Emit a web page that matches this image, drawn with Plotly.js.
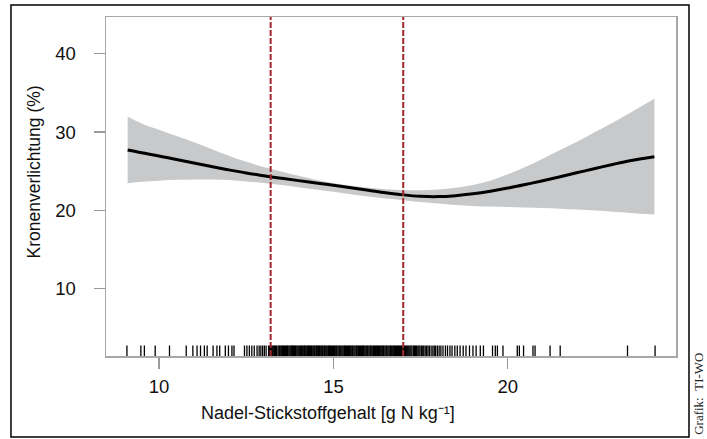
<!DOCTYPE html>
<html>
<head>
<meta charset="utf-8">
<script src="https://cdn.plot.ly/plotly-3.0.1.min.js"></script>
<style>html,body{margin:0;padding:0;background:#fff;}#chart{width:707px;height:439px;}</style>
</head>
<body>
<div id="chart"></div>
<script>
// Nitrogen content (g N / kg) grid of the smooth
const xGrid = [9.1, 9.5, 10.0, 10.5, 11.0, 11.5, 12.0, 12.5, 13.0, 13.5, 14.0, 14.5, 15.0, 15.5, 16.0, 16.5, 17.0, 17.5, 18.0, 18.5, 19.0, 19.5, 20.0, 20.5, 21.0, 21.5, 22.0, 22.5, 23.0, 23.5, 24.2];
// Fitted crown defoliation (%)
const fitValues = [27.7, 27.35, 26.95, 26.5, 26.05, 25.6, 25.17, 24.77, 24.43, 24.1, 23.8, 23.5, 23.2, 22.88, 22.57, 22.25, 21.98, 21.8, 21.76, 21.88, 22.12, 22.45, 22.85, 23.3, 23.78, 24.3, 24.83, 25.35, 25.87, 26.35, 26.85];
// Confidence band
const upperValues = [31.95, 31.1, 30.3, 29.5, 28.7, 27.85, 26.98, 26.2, 25.55, 24.98, 24.42, 23.9, 23.47, 23.15, 22.9, 22.7, 22.58, 22.58, 22.66, 22.88, 23.25, 23.8, 24.6, 25.55, 26.6, 27.7, 28.8, 30.0, 31.2, 32.45, 34.25];
const lowerValues = [23.45, 23.65, 23.8, 23.9, 23.95, 23.95, 23.88, 23.7, 23.5, 23.25, 22.97, 22.68, 22.38, 22.06, 21.77, 21.52, 21.3, 21.07, 20.87, 20.7, 20.57, 20.48, 20.42, 20.36, 20.29, 20.21, 20.1, 19.97, 19.83, 19.68, 19.48];
// Threshold lines
const cutPoints = [13.2, 17.0];
// Observed nitrogen values (rug)
const rugValues = [9.08, 9.48, 9.58, 9.89, 10.30, 10.78, 10.97, 11.09, 11.19, 11.30, 11.38, 11.55, 11.66, 11.74, 11.90, 11.99, 12.09, 12.15, 12.45, 12.52, 12.59, 12.66, 12.73, 12.81, 12.87, 12.92, 12.97, 13.02, 13.07, 13.14,
13.17, 13.20, 13.23, 13.26, 13.29, 13.31, 13.34, 13.37, 13.41, 13.44, 13.46, 13.49, 13.52, 13.54, 13.57, 13.60, 13.62, 13.65, 13.68, 13.70, 13.73, 13.76, 13.79, 13.81, 13.83, 13.85, 13.88, 13.91, 13.93, 13.96, 13.99, 14.02, 14.05, 14.07, 14.09, 14.12, 14.15, 14.17, 14.19, 14.22, 14.25, 14.27, 14.29, 14.31, 14.34, 14.37, 14.39, 14.42, 14.45, 14.47, 14.50, 14.52, 14.55, 14.57, 14.60, 14.62, 14.65, 14.68, 14.70, 14.73, 14.75, 14.78, 14.81, 14.84, 14.86, 14.89, 14.91, 14.94, 14.97, 15.00, 15.03, 15.05, 15.08, 15.10, 15.13, 15.16, 15.18, 15.21, 15.24, 15.27, 15.30, 15.32, 15.35, 15.38, 15.40, 15.43, 15.46, 15.48, 15.51, 15.54, 15.56, 15.59, 15.62, 15.65, 15.67, 15.70, 15.72, 15.75, 15.78, 15.81, 15.83, 15.86, 15.88, 15.91, 15.94, 15.97, 15.99, 16.02, 16.05, 16.07, 16.10, 16.13, 16.15, 16.18, 16.21, 16.24, 16.26, 16.29, 16.32, 16.34, 16.37, 16.40, 16.43, 16.45, 16.48, 16.51, 16.53, 16.56, 16.59, 16.62, 16.64, 16.67, 16.70, 16.73, 16.75, 16.78, 16.81, 16.84, 16.86, 16.89, 16.92, 16.95, 16.97, 17.01,
17.04, 17.07, 17.10, 17.13, 17.16, 17.19, 17.22, 17.25, 17.29, 17.32, 17.35, 17.38, 17.42, 17.45, 17.48, 17.52, 17.56, 17.59, 17.63, 17.67, 17.71, 17.75, 17.80, 17.85, 17.89, 17.93, 17.98, 18.03, 18.08,
18.14, 18.21, 18.27, 18.34, 18.40, 18.48, 18.55, 18.63, 18.72, 18.80, 18.90, 19.00, 19.09, 19.21, 19.30,
19.56, 19.64, 19.70, 19.86, 20.27, 20.33, 20.45, 20.72, 20.78, 21.21, 21.50, 23.43, 24.22];
const xTicks = [10, 15, 20];
const yTicks = [10, 20, 30, 40];
const xTitle = 'Nadel-Stickstoffgehalt [g N kg⁻¹]';
const yTitle = 'Kronenverlichtung (%)';
const credit = 'Grafik:\u00a0\u00a0TI-WO';

const traces = [
  {x: xGrid, y: lowerValues, type: 'scatter', mode: 'lines', line: {width: 0, shape: 'spline', color: 'rgba(0,0,0,0)'}, hoverinfo: 'skip', showlegend: false},
  {x: xGrid, y: upperValues, type: 'scatter', mode: 'lines', fill: 'tonexty', fillcolor: '#c8c9cb', line: {width: 0, shape: 'spline', color: 'rgba(0,0,0,0)'}, hoverinfo: 'skip', showlegend: false},
  {x: xGrid, y: fitValues, type: 'scatter', mode: 'lines', line: {width: 3, shape: 'spline', color: '#000'}, showlegend: false}
];

const shapes = [];
rugValues.forEach(v => shapes.push({type: 'line', xref: 'x', yref: 'paper', x0: v, x1: v, y0: 0, y1: 0.031, line: {color: '#000', width: 1.3}}));
cutPoints.forEach(v => shapes.push({type: 'line', xref: 'x', yref: 'paper', x0: v, x1: v, y0: 0, y1: 1, line: {color: '#a3262b', width: 2, dash: '6px,2px'}}));
shapes.push({type: 'rect', xref: 'paper', yref: 'paper', x0: -0.1667, x1: 1.0228, y0: -0.2389, y1: 1.0354, line: {color: '#000', width: 1.5}, fillcolor: 'rgba(0,0,0,0)'});

const axisCommon = {
  showgrid: false, zeroline: false, showline: true, mirror: true,
  linecolor: '#a8a8a8', linewidth: 1.5,
  ticks: 'outside', ticklen: 11, tickwidth: 1.2, tickcolor: '#9a9a9a',
  tickfont: {family: 'Liberation Sans, Arial, sans-serif', size: 18.5, color: '#111'}
};

const layout = {
  width: 707, height: 439,
  margin: {l: 106, r: 31, t: 17, b: 83, pad: 0},
  paper_bgcolor: '#fff', plot_bgcolor: '#fff',
  xaxis: Object.assign({}, axisCommon, {range: [8.48, 24.82], tickvals: xTicks, ticktext: xTicks.map(String), ticklabelstandoff: 2}),
  yaxis: Object.assign({}, axisCommon, {range: [1.4, 44.7], tickvals: yTicks, ticktext: yTicks.map(String), ticklabelstandoff: 14}),
  shapes: shapes,
  annotations: [
    {text: xTitle, xref: 'paper', yref: 'paper', x: 0.3886, y: -0.1667, xanchor: 'center', yanchor: 'middle', showarrow: false, font: {family: 'Liberation Sans, Arial, sans-serif', size: 18, color: '#111'}},
    {text: yTitle, xref: 'paper', yref: 'paper', x: -0.1263, y: 0.5413, xanchor: 'center', yanchor: 'middle', textangle: -90, showarrow: false, font: {family: 'Liberation Sans, Arial, sans-serif', size: 17.5, color: '#111'}},
    {text: credit, xref: 'paper', yref: 'paper', x: 1.0395, y: -0.113, xanchor: 'center', yanchor: 'middle', textangle: -90, showarrow: false, font: {family: 'Liberation Serif, Times New Roman, serif', size: 13, color: '#222'}}
  ]
};

Plotly.newPlot('chart', traces, layout, {displayModeBar: false, staticPlot: true});
</script>
</body>
</html>
